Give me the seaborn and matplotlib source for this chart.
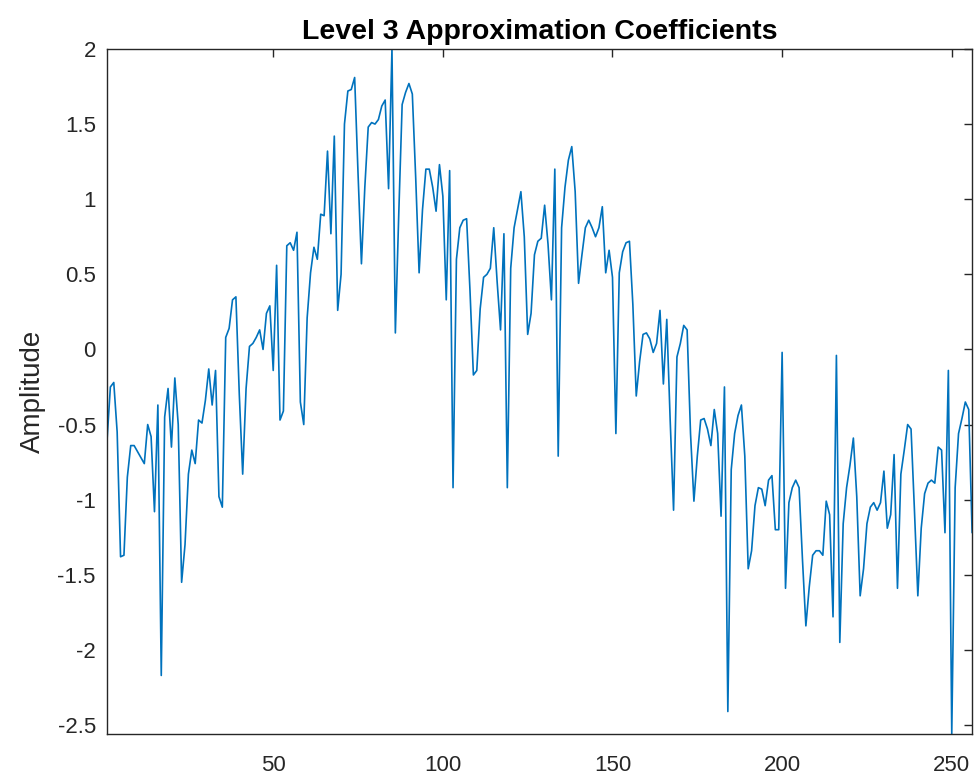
import numpy as np
import pandas as pd
import matplotlib
matplotlib.use("Agg")
import matplotlib.pyplot as plt
import seaborn as sns

# level 3 approximation coefficients (index 1..256)
coef_01_32 = [-0.61, -0.25, -0.22, -0.55, -1.38, -1.37, -0.85, -0.64, -0.64, -0.68,
              -0.72, -0.76, -0.50, -0.58, -1.08, -0.37, -2.17, -0.45, -0.26, -0.65,
              -0.19, -0.50, -1.55, -1.30, -0.83, -0.67, -0.76, -0.47, -0.49, -0.34,
              -0.13, -0.37]
coef_33_64 = [-0.14, -0.98, -1.05, 0.08, 0.14, 0.33, 0.35, -0.30, -0.83, -0.26,
              0.02, 0.04, 0.08, 0.13, 0.00, 0.24, 0.29, -0.14, 0.56, -0.47,
              -0.41, 0.69, 0.71, 0.66, 0.78, -0.35, -0.50, 0.21, 0.51, 0.68,
              0.60, 0.90]
coef_65_96 = [0.89, 1.32, 0.77, 1.42, 0.26, 0.50, 1.50, 1.72, 1.73, 1.81,
              1.17, 0.57, 1.08, 1.48, 1.51, 1.50, 1.53, 1.62, 1.66, 1.07,
              2.00, 0.11, 0.90, 1.63, 1.71, 1.77, 1.70, 1.14, 0.51, 0.93,
              1.20, 1.20]
coef_97_128 = [1.08, 0.92, 1.23, 1.02, 0.33, 1.19, -0.92, 0.60, 0.81, 0.86,
               0.87, 0.39, -0.17, -0.14, 0.27, 0.48, 0.50, 0.54, 0.81, 0.45,
               0.13, 0.77, -0.92, 0.54, 0.81, 0.93, 1.05, 0.75, 0.10, 0.24,
               0.63, 0.72]
coef_129_160 = [0.74, 0.96, 0.70, 0.33, 1.20, -0.71, 0.81, 1.08, 1.26, 1.35,
                1.05, 0.44, 0.63, 0.81, 0.86, 0.81, 0.75, 0.81, 0.95, 0.51,
                0.66, 0.48, -0.56, 0.51, 0.65, 0.71, 0.72, 0.30, -0.31, -0.08,
                0.10, 0.11]
coef_161_192 = [0.07, -0.02, 0.04, 0.26, -0.23, 0.20, -0.47, -1.07, -0.05, 0.04,
                0.16, 0.13, -0.56, -1.01, -0.71, -0.47, -0.46, -0.53, -0.64, -0.40,
                -0.56, -1.11, -0.25, -2.41, -0.80, -0.56, -0.44, -0.37, -0.71, -1.46,
                -1.34, -1.04]
coef_193_224 = [-0.92, -0.93, -1.04, -0.87, -0.84, -1.20, -1.20, -0.02, -1.59, -1.02,
                -0.92, -0.87, -0.92, -1.40, -1.84, -1.58, -1.37, -1.34, -1.34, -1.37,
                -1.01, -1.10, -1.78, -0.04, -1.95, -1.16, -0.92, -0.77, -0.59, -0.98,
                -1.64, -1.46]
coef_225_256 = [-1.16, -1.05, -1.02, -1.07, -1.02, -0.81, -1.19, -1.10, -0.70, -1.59,
                -0.83, -0.67, -0.50, -0.53, -1.07, -1.64, -1.19, -0.96, -0.89, -0.87,
                -0.89, -0.65, -0.67, -1.22, -0.14, -2.56, -0.92, -0.56, -0.46, -0.35,
                -0.40, -1.22]

coefs = (coef_01_32 + coef_33_64 + coef_65_96 + coef_97_128 +
         coef_129_160 + coef_161_192 + coef_193_224 + coef_225_256)
x_ticks = [50, 100, 150, 200, 250]
y_ticks = [-2.5, -2, -1.5, -1, -0.5, 0, 0.5, 1, 1.5, 2]

df = pd.DataFrame({"n": np.arange(1, len(coefs) + 1), "amp": coefs})

sns.set_theme(style="white")
plt.rcParams["font.family"] = ["Liberation Sans", "DejaVu Sans"]

fig = plt.figure(figsize=(9.77, 7.77), dpi=100)
ax = fig.add_axes([0.1095, 0.0553, 0.8855, 0.8817])

sns.lineplot(data=df, x="n", y="amp", color="#0072BD", linewidth=1.2, ax=ax)

ax.set_xlim(df["n"].min(), df["n"].max())
ax.set_ylim(df["amp"].min(), df["amp"].max())
ax.set_xticks(x_ticks)
ax.set_xticklabels([str(t) for t in x_ticks])
ax.set_yticks(y_ticks)
ax.set_yticklabels([f"{t:g}" for t in y_ticks])

dark = "#262626"
for s in ax.spines.values():
    s.set_color(dark)
    s.set_linewidth(1.0)
ax.tick_params(axis="both", which="both", direction="in", length=6, width=1.0,
               colors=dark, labelsize=16, top=True, right=True)
ax.tick_params(axis="x", pad=15)
ax.tick_params(axis="y", pad=8)

ax.set_xlabel("")
ax.set_ylabel("Amplitude", fontsize=20, color=dark, labelpad=8)
ax.set_title("Level 3 Approximation Coefficients", fontsize=20.5, fontweight="bold",
             color="black", pad=7)

fig.savefig("out.png", dpi=100)
